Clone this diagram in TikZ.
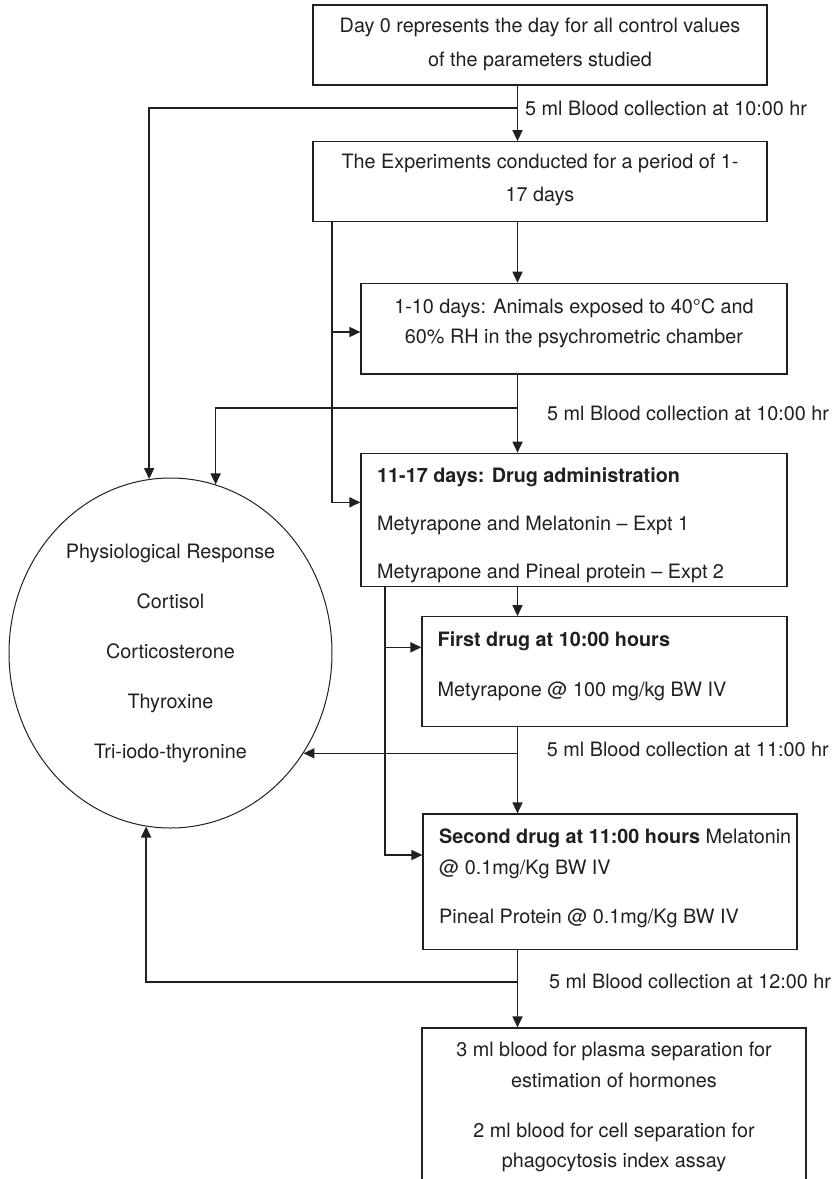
\documentclass[tikz,border=0pt]{standalone}
\usepackage{fontspec}
\setmainfont{TeX Gyre Heros}
\usetikzlibrary{arrows.meta,shapes.geometric}
\definecolor{ink}{RGB}{35,31,32}
\begin{document}
\begin{tikzpicture}[x=1pt,y=-1pt,
  box/.style={draw=ink, line width=1.2pt, rectangle, inner sep=0pt},
  txt/.style={inner sep=0pt, text=ink, font=\fontsize{19.8}{#1}\selectfont},
  txt/.default=35,
  conn/.style={draw=ink, line width=1.6pt},
  tip/.style={-{Triangle[length=11pt,width=10pt]}},
]
\useasboundingbox[fill=white] (0,0) rectangle (839,1179);

% process boxes
\node[box, minimum width=454pt, minimum height=80pt]    (b1) at (540,45) {};
\node[box, minimum width=454pt, minimum height=80pt]    (b2) at (540,181.7) {};
\node[box, minimum width=426pt, minimum height=90.7pt]  (b3) at (574,328.65) {};
\node[box, minimum width=426pt, minimum height=133.4pt] (b4) at (574,520) {};
\node[box, minimum width=365pt, minimum height=110pt]   (b5) at (604.5,671.7) {};
\node[box, minimum width=374pt, minimum height=135.3pt] (b6) at (610,881.65) {};
\node[box, minimum width=384pt, minimum height=160pt]   (b7) at (614,1108) {};

% response ellipse
\node[ellipse, draw=ink, line width=1pt, minimum width=323pt, minimum height=350pt,
      txt, align=center] (e) at (170.5,653)
  {Physiological Response\\[15pt]Cortisol\\[15pt]Corticosterone\\[15pt]Thyroxine\\[15pt]Tri-iodo-thyronine};

% box texts
\node[txt=34.5, align=center] (t1) at (540,44.4)
  {Day 0 represents the day for all control values\\of the parameters studied};
\node[txt=33.3, align=center] (t2) at (540,180.2)
  {The Experiments conducted for a period of 1-\\17 days};
\node[txt=30, align=center] (t3) at (574,322.9)
  {1-10 days: Animals exposed to 40°C and\\60\% RH in the psychrometric chamber};
\node[txt, align=left, anchor=west] (t4) at (377,525.1)
  {\textbf{11-17 days: Drug administration}\\[12.75pt]Metyrapone and Melatonin – Expt 1\\[12.75pt]Metyrapone and Pineal protein – Expt 2};
\node[txt, align=left, anchor=west] (t5) at (437.5,665.9)
  {\textbf{First drug at 10:00 hours}\\[15pt]Metyrapone @ 100 mg/kg BW IV};
\node[txt=30.3, align=left, anchor=west] (t6) at (439,878.2)
  {\textbf{Second drug at 11:00 hours} Melatonin\\@ 0.1mg/Kg BW IV\\[18.7pt]Pineal Protein @ 0.1mg/Kg BW IV};
\node[txt=30.9, align=center] (t7) at (614,1107)
  {3 ml blood for plasma separation for\\estimation of hormones\\[19pt]2 ml blood for cell separation for\\phagocytosis index assay};

% blood collection labels
\node[txt, anchor=west] (l1) at (525,108)   {5 ml Blood collection at 10:00 hr};
\node[txt, anchor=west] (l2) at (547,413)   {5 ml Blood collection at 10:00 hr};
\node[txt, anchor=west] (l3) at (546.7,749.3) {5 ml Blood collection at 11:00 hr};
\node[txt, anchor=west] (l4) at (549,981)   {5 ml Blood collection at 12:00 hr};

% guide coordinates
\coordinate (sp)  at (517.5,0);
\coordinate (lx1) at (332,0);
\coordinate (lx2) at (385,0);
\coordinate (a3)  at (0,332);
\coordinate (a4)  at (0,502.3);
\coordinate (a5)  at (0,647.3);
\coordinate (a6)  at (0,855);
\coordinate (j1)  at (517.5,107.7);
\coordinate (j2)  at (517.5,408);
\coordinate (j3)  at (517.5,753.3);
\coordinate (j4)  at (517.5,981.7);

% main spine
\draw[conn,tip] (b1.south -| sp) -- (b2.north -| sp);
\draw[conn,tip] (b2.south -| sp) -- (b3.north -| sp);
\draw[conn,tip] (b3.south -| sp) -- (b4.north -| sp);
\draw[conn,tip] (b4.south -| sp) -- (b5.north -| sp);
\draw[conn,tip] (b5.south -| sp) -- (b6.north -| sp);
\draw[conn,tip] (b6.south -| sp) -- (b7.north -| sp);

% blood samples to the response ellipse
\draw[conn,tip] (j1) -| (e.97.7);
\draw[conn,tip] (j2) -| (e.75.2);
\draw[conn,tip] (j3) -- (j3 -| e.-37.2);
\draw[conn,tip] (j4) -| (e.262.6);

% side feeds
\draw[conn,tip] (b2.south -| lx1) |- (b4.west |- a4);
\draw[conn,tip] (a3 -| lx1) -- (a3 -| b3.west);
\draw[conn,tip] (b4.south -| lx2) |- (b6.west |- a6);
\draw[conn,tip] (a5 -| lx2) -- (a5 -| b5.west);
\end{tikzpicture}
\end{document}
